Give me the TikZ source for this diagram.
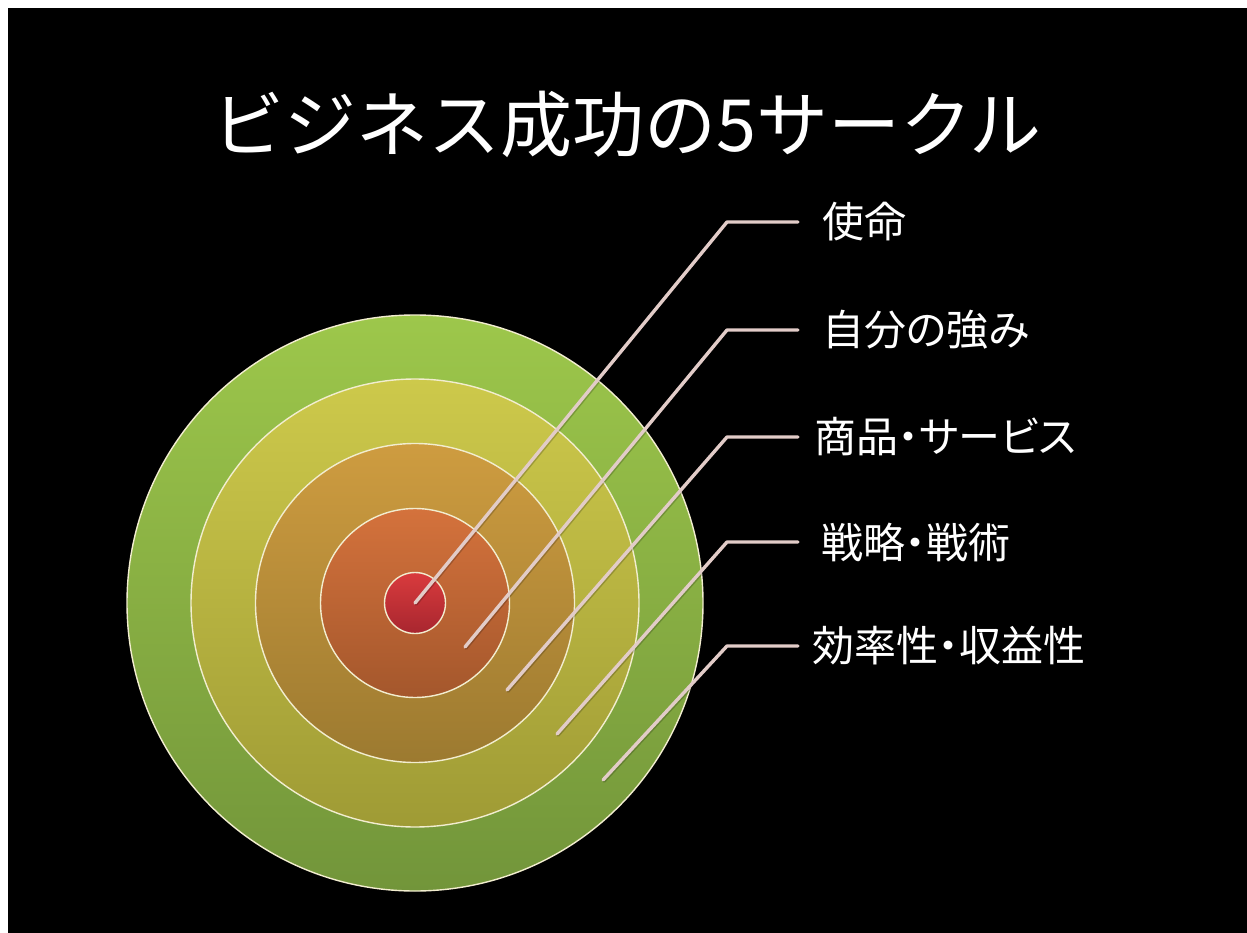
\documentclass[tikz,border=0pt]{standalone}
\usepackage{fontspec}
\setmainfont{Noto Sans CJK JP}
\newfontfamily\labfont{Noto Sans CJK JP}[RawFeature=+palt]
\definecolor{g1}{HTML}{9DC74B}
\definecolor{g2}{HTML}{72953A}
\definecolor{y1}{HTML}{CDC94B}
\definecolor{y2}{HTML}{9F9B35}
\definecolor{o1}{HTML}{CE9C40}
\definecolor{o2}{HTML}{9C7A30}
\definecolor{r1}{HTML}{D4723C}
\definecolor{r2}{HTML}{A4572C}
\definecolor{c1}{HTML}{D93B3D}
\definecolor{c2}{HTML}{A8262F}
\definecolor{rimc}{HTML}{F2EDCF}
\definecolor{linec}{HTML}{E2CCC8}
\begin{document}
\begin{tikzpicture}[x=1pt,y=-1pt,
  ring/.style={circle, draw=rimc, line width=1.4pt, inner sep=0},
  conn/.style={draw=linec, line width=3.4pt, line cap=round, line join=round},
  connshadow/.style={draw=black, opacity=0.2, line width=3.4pt, line cap=round, line join=round},
  lab/.style={anchor=west, inner sep=0, text=white, font=\labfont\fontsize{42}{46}\selectfont},
  ttl/.style={inner sep=0, text=white, font=\fontsize{72}{80}\selectfont}]
\useasboundingbox (0,0) rectangle (1247,933);
\fill[white] (0,0) rectangle (1247,933);
\fill[black] (8,8) rectangle (1247,933);

\node[ttl] (title) at (627,124) {ビジネス成功の5サークル};

\node[ring, minimum size=576pt, top color=g1, bottom color=g2] (ring5) at (415,603) {};
\node[ring, minimum size=448pt, top color=y1, bottom color=y2] (ring4) at (415,603) {};
\node[ring, minimum size=319pt, top color=o1, bottom color=o2] (ring3) at (415,603) {};
\node[ring, minimum size=189pt, top color=r1, bottom color=r2] (ring2) at (415,603) {};
\node[ring, minimum size=61pt, top color=c1, bottom color=c2] (ring1) at (415,603) {};

\coordinate (e1) at (415,603);
\coordinate (e2) at (465,647);
\coordinate (e3) at (507,690);
\coordinate (e4) at (557,734);
\coordinate (e5) at (603,780);
\coordinate (k1) at (727,222);
\coordinate (k2) at (727,330);
\coordinate (k3) at (727,437);
\coordinate (k4) at (727,542);
\coordinate (k5) at (727,646);
\coordinate (h1) at (798,222);
\coordinate (h2) at (798,330);
\coordinate (h3) at (798,437);
\coordinate (h4) at (798,542);
\coordinate (h5) at (798,646);

\node[lab] (l1) at (822,222) {使命};
\node[lab] (l2) at (822,330) {自分の強み};
\node[lab] (l3) at (814,437) {商品・サービス};
\node[lab] (l4) at (821,542) {戦略・戦術};
\node[lab] (l5) at (812,646) {効率性・収益性};

\foreach \i in {1,...,5}{
  \draw[connshadow, transform canvas={shift={(1pt,-1.2pt)}}] (e\i) -- (k\i) -- (h\i);
  \draw[conn] (e\i) -- (k\i) -- (h\i);
}
\end{tikzpicture}
\end{document}
